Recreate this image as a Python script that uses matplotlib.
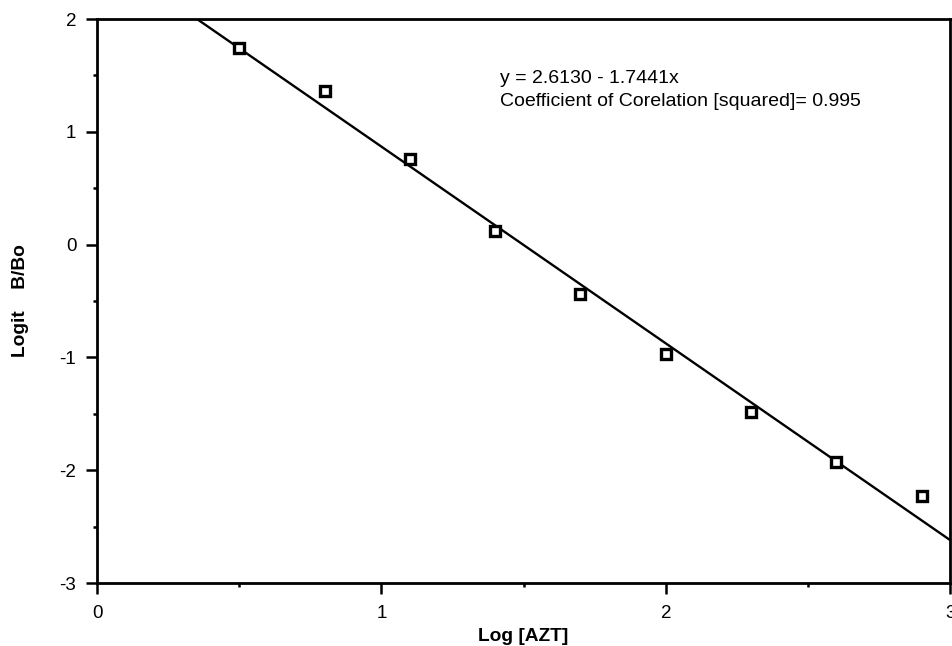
import matplotlib.pyplot as plt
import numpy as np
from matplotlib.ticker import MultipleLocator

plt.rcParams['font.family'] = ['Liberation Sans', 'DejaVu Sans']
plt.rcParams['axes.unicode_minus'] = False

# data
log_azt = [0.5, 0.8, 1.1, 1.4, 1.7, 2.0, 2.3, 2.6, 2.9]
logit_b_bo = [1.74, 1.36, 0.76, 0.12, -0.44, -0.97, -1.48, -1.93, -2.23]

intercept = 2.6130
slope = -1.7441
fit_x = [0.0, 3.0]

fig = plt.figure(figsize=(9.52, 6.46), dpi=100)
ax = fig.add_axes([0.102, 0.0975, 0.896, 0.873])

fx = np.array(fit_x)
ax.plot(fx, intercept + slope * fx, color='black', lw=1.7, solid_capstyle='butt')
ax.plot(log_azt, logit_b_bo, linestyle='none', marker='s', markersize=6.5,
        markerfacecolor='white', markeredgecolor='black', markeredgewidth=2.4,
        clip_on=False)

ax.set_xlim(0, 3)
ax.set_ylim(-3, 2)
ax.xaxis.set_major_locator(MultipleLocator(1))
ax.xaxis.set_minor_locator(MultipleLocator(0.5))
ax.yaxis.set_major_locator(MultipleLocator(1))
ax.yaxis.set_minor_locator(MultipleLocator(0.5))
ax.tick_params(which='major', direction='out', length=8, width=1.8, labelsize=13.5)
ax.tick_params(which='minor', direction='out', length=3, width=1.8)
ax.tick_params(axis='y', which='major', pad=7)
ax.tick_params(axis='x', which='major', pad=8)

for sp in ax.spines.values():
    sp.set_linewidth(2)

ax.set_xlabel('Log [AZT]', fontsize=13.8, fontweight='bold', labelpad=4)
ax.set_ylabel('Logit    B/Bo', fontsize=13.8, fontweight='bold', labelpad=22)

ax.text(0.4725, 0.91, 'y = 2.6130 - 1.7441x\nCoefficient of Corelation [squared]= 0.995',
        transform=ax.transAxes, fontsize=14, va='top', ha='left', linespacing=1.5)

fig.savefig('out.png', dpi=100)
